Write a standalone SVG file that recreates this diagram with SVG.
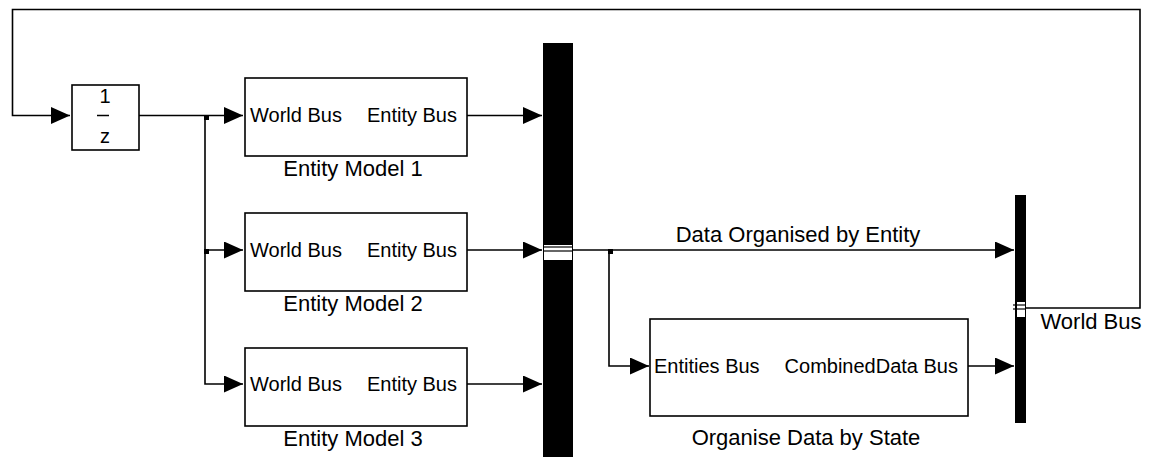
<svg xmlns="http://www.w3.org/2000/svg" width="1153" height="459" viewBox="0 0 1153 459">
  <style>
    .blk { fill: #fff; stroke: #000; stroke-width: 1.6; }
    .bar { fill: #000; stroke: none; }
    .wire { fill: none; stroke: #000; stroke-width: 1.6; }
    .port { font-family: "Liberation Sans", Arial, sans-serif; font-size: 20px; fill: #000; }
    .name { font-family: "Liberation Sans", Arial, sans-serif; font-size: 22px; fill: #000; text-anchor: middle; }
    .num { font-family: "Liberation Sans", Arial, sans-serif; font-size: 20px; fill: #000; text-anchor: middle; }
  </style>
  <defs>
    <marker id="arr" markerWidth="19" markerHeight="17" refX="19" refY="8.5" orient="auto" markerUnits="userSpaceOnUse">
      <path d="M0,0 L19,8.5 L0,17 Z" fill="#000"/>
    </marker>
  </defs>

  <rect width="1153" height="459" fill="#fff"/>

  <!-- signal lines -->
  <g id="connectors">
    <!-- feedback loop: world bus back to the unit delay -->
    <path class="wire" d="M1026,308 H1140 V9.5 H12.5 V115.5 H70" marker-end="url(#arr)"/>
    <!-- delay output fans out to the three entity models -->
    <path class="wire" d="M139,115.5 H243" marker-end="url(#arr)"/>
    <path class="wire" d="M205,115.5 V384 H243" marker-end="url(#arr)"/>
    <path class="wire" d="M205,250 H243" marker-end="url(#arr)"/>
    <rect x="204" y="115" width="5" height="5" fill="#000"/>
    <rect x="204" y="249" width="5" height="5" fill="#000"/>
    <!-- entity outputs into the bus creator -->
    <path class="wire" d="M467,115.5 H542" marker-end="url(#arr)"/>
    <path class="wire" d="M467,250 H542" marker-end="url(#arr)"/>
    <path class="wire" d="M467,384 H542" marker-end="url(#arr)"/>
    <!-- bus creator output -->
    <path class="wire" d="M573,250 H1014" marker-end="url(#arr)"/>
    <path class="wire" d="M609,250 V366 H649" marker-end="url(#arr)"/>
    <rect x="608" y="249" width="5" height="5" fill="#000"/>
    <!-- organiser output -->
    <path class="wire" d="M968,366 H1014" marker-end="url(#arr)"/>
    <text class="name" x="798" y="242">Data Organised by Entity</text>
    <text class="name" x="1091" y="329">World Bus</text>
  </g>

  <!-- unit delay -->
  <g id="unit-delay">
    <rect class="blk" x="72" y="85" width="67" height="65"/>
    <text class="num" x="105" y="103">1</text>
    <line x1="97" y1="115.5" x2="109" y2="115.5" stroke="#000" stroke-width="1.5"/>
    <text class="num" x="105" y="143">z</text>
  </g>

  <!-- entity models -->
  <g id="entity-model-1">
    <rect class="blk" x="245" y="78" width="222" height="78"/>
    <text class="port" x="250" y="122">World Bus</text>
    <text class="port" x="457" y="122" text-anchor="end">Entity Bus</text>
    <text class="name" x="353" y="176">Entity Model 1</text>
  </g>
  <g id="entity-model-2">
    <rect class="blk" x="245" y="213" width="222" height="78"/>
    <text class="port" x="250" y="257">World Bus</text>
    <text class="port" x="457" y="257" text-anchor="end">Entity Bus</text>
    <text class="name" x="353" y="311">Entity Model 2</text>
  </g>
  <g id="entity-model-3">
    <rect class="blk" x="245" y="348" width="222" height="78"/>
    <text class="port" x="250" y="391">World Bus</text>
    <text class="port" x="457" y="391" text-anchor="end">Entity Bus</text>
    <text class="name" x="353" y="446">Entity Model 3</text>
  </g>

  <!-- bus creator for entity data -->
  <g id="entity-bus-creator">
    <rect class="bar" x="543" y="43" width="30" height="414"/>
    <rect x="544" y="245" width="28" height="15" fill="#fff"/>
    <line x1="544" y1="247" x2="572" y2="247" stroke="#000" stroke-width="1.2"/>
    <line x1="544" y1="251" x2="572" y2="251" stroke="#000" stroke-width="1.2"/>
  </g>

  <!-- organiser subsystem -->
  <g id="organise-data">
    <rect class="blk" x="650" y="319" width="318" height="97"/>
    <text class="port" x="654" y="373">Entities Bus</text>
    <text class="port" x="958" y="373" text-anchor="end">CombinedData Bus</text>
    <text class="name" x="806" y="445">Organise Data by State</text>
  </g>

  <!-- world bus creator -->
  <g id="world-bus-creator">
    <rect class="bar" x="1015" y="195" width="11" height="228"/>
    <rect x="1017" y="302" width="8" height="15" fill="#fff"/>
    <line x1="1013" y1="305" x2="1025" y2="305" stroke="#000" stroke-width="1.2"/>
    <line x1="1013" y1="309" x2="1025" y2="309" stroke="#000" stroke-width="1.2"/>
  </g>
</svg>
